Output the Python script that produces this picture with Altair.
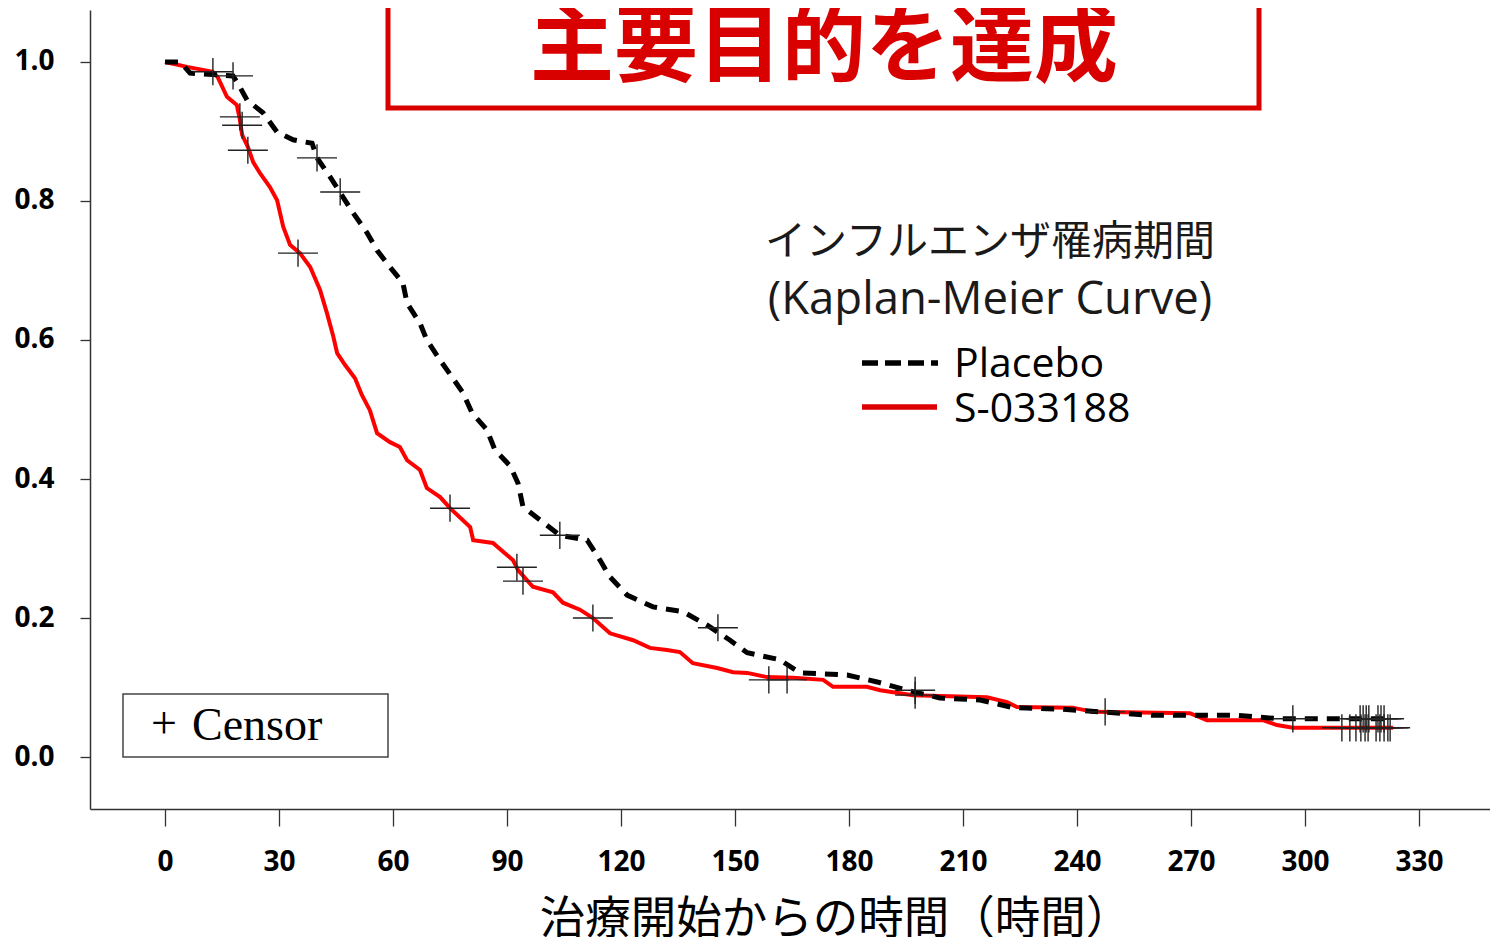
import altair as alt
import pandas as pd

# ---------------- data ----------------
# Kaplan-Meier curve of S-033188 (time in hours, survival proportion)
s033188_curve = [
    (0, 1.000), (5.8, 0.993), (12.6, 0.986), (13.9, 0.978), (16.3, 0.950), (18.9, 0.938),
    (19.7, 0.917), (20.3, 0.895), (21.8, 0.878), (23.2, 0.856), (25.0, 0.840), (27.6, 0.820),
    (29.5, 0.801), (31.1, 0.763), (32.9, 0.737), (35.5, 0.725), (38.2, 0.705), (40.8, 0.672),
    (42.6, 0.639), (44.2, 0.607), (45.3, 0.581), (47.4, 0.564), (50.0, 0.545), (51.8, 0.521),
    (53.9, 0.499), (55.8, 0.466), (59.2, 0.453), (61.8, 0.446), (63.7, 0.427), (67.1, 0.413),
    (68.9, 0.387), (72.4, 0.374), (75.0, 0.358), (80.3, 0.331), (81.1, 0.312), (86.3, 0.308),
    (91.6, 0.283), (92.9, 0.269), (96.8, 0.245), (102.1, 0.237), (104.7, 0.222), (109.2, 0.212),
    (112.6, 0.200), (117.1, 0.178), (123.2, 0.168), (127.6, 0.157), (132.1, 0.154), (135.5, 0.151),
    (138.9, 0.135), (145.3, 0.128), (149.5, 0.122), (153.2, 0.121), (158.4, 0.115), (165.3, 0.114),
    (173.2, 0.111), (175.8, 0.101), (184.7, 0.101), (188.2, 0.096), (196.8, 0.089), (216.3, 0.086),
    (221.6, 0.079), (224.2, 0.072), (238.9, 0.071), (244.2, 0.065), (269.7, 0.063), (274.2, 0.053),
    (288.9, 0.053), (292.6, 0.046), (296.8, 0.042), (323.2, 0.042),
]
# Kaplan-Meier curve of Placebo
placebo_curve = [
    (0, 1.000), (4.0, 1.000), (6.6, 0.984), (17.9, 0.980), (19.7, 0.964), (21.6, 0.945),
    (25.8, 0.927), (29.5, 0.899), (33.7, 0.888), (38.7, 0.883), (40.0, 0.862), (43.4, 0.835),
    (46.1, 0.812), (49.5, 0.783), (53.2, 0.754), (55.8, 0.729), (59.2, 0.705), (62.6, 0.682),
    (63.7, 0.653), (67.1, 0.624), (68.9, 0.600), (72.4, 0.571), (75.5, 0.547), (78.4, 0.524),
    (80.8, 0.495), (84.7, 0.471), (86.8, 0.442), (90.8, 0.419), (92.9, 0.394), (94.2, 0.360),
    (98.7, 0.341), (103.9, 0.319), (111.1, 0.312), (114.5, 0.283), (117.1, 0.259), (121.6, 0.233),
    (128.4, 0.216), (136.3, 0.209), (142.6, 0.190), (148.7, 0.168), (153.2, 0.150), (161.8, 0.140),
    (167.1, 0.121), (179.5, 0.118), (187.4, 0.108), (195.3, 0.096), (203.9, 0.085), (214.5, 0.082),
    (223.2, 0.071), (235.5, 0.069), (246.1, 0.065), (259.2, 0.060), (282.1, 0.060), (293.4, 0.055),
    (322.4, 0.055),
]
# censored observations (time, survival at censoring)
s033188_censor = [
    (12.6, 0.986), (19.7, 0.921), (20.3, 0.909), (21.8, 0.873), (35.0, 0.725), (75.0, 0.358),
    (92.6, 0.273), (94.2, 0.253), (112.6, 0.200), (158.9, 0.111), (163.7, 0.111), (197.4, 0.089),
    (309.7, 0.042), (311.8, 0.042), (313.4, 0.042), (314.7, 0.042), (315.8, 0.042), (316.6, 0.042),
    (318.7, 0.042), (319.7, 0.042), (320.8, 0.042), (321.8, 0.042), (322.4, 0.042),
]
placebo_censor = [
    (17.9, 0.980), (40.0, 0.862), (46.1, 0.813), (103.9, 0.319), (145.5, 0.186), (197.4, 0.096),
    (247.4, 0.065), (296.8, 0.055), (314.5, 0.055), (315.3, 0.055), (316.1, 0.055), (316.8, 0.055),
    (319.2, 0.055), (320.0, 0.055), (320.8, 0.055),
]

x_ticks = [0, 30, 60, 90, 120, 150, 180, 210, 240, 270, 300, 330]
y_ticks = [0.0, 0.2, 0.4, 0.6, 0.8, 1.0]
x_title = "治療開始からの時間（時間）"
headline = "主要目的を達成"
legend_title = ["インフルエンザ罹病期間", "(Kaplan-Meier Curve)"]
legend_labels = ["Placebo", "S-033188"]
censor_label = ["+", "Censor"]

# ---------------- layout ----------------
W, H = 1400, 799
X_DOM = [-19.74, 348.68]
Y_DOM = [-0.0748, 1.0748]
RED = "#ff0000"
TITLE_RED = "#d90000"

xs = alt.Scale(domain=X_DOM, nice=False, zero=False)
ys = alt.Scale(domain=Y_DOM, nice=False, zero=False)


def df_of(pairs):
    return pd.DataFrame(pairs, columns=["t", "s"])


x_enc = alt.X(
    "t:Q",
    scale=xs,
    axis=alt.Axis(
        values=x_ticks, format="d", grid=False, title=x_title,
        labelFont="Open Sans", labelFontSize=28, labelFontWeight="bold", labelColor="#000",
        labelPadding=22, tickSize=17, tickColor="#333", tickWidth=1.3,
        domainColor="#333", domainWidth=1.5,
        titleFont="Noto Sans CJK JP", titleFontSize=45.5, titleFontWeight="normal", titleColor="#000",
        titleX=745, titleY=110, titleBaseline="middle", titleAlign="center",
    ),
)
y_enc = alt.Y(
    "s:Q",
    scale=ys,
    axis=alt.Axis(
        values=y_ticks, format=".1f", grid=False, title=None,
        labelFont="Open Sans", labelFontSize=28, labelFontWeight="bold", labelColor="#000",
        labelPadding=26, tickSize=10, tickColor="#333", tickWidth=1.3,
        domainColor="#333", domainWidth=1.5,
    ),
)

red_line = alt.Chart(df_of(s033188_curve)).mark_line(
    color=RED, strokeWidth=4, interpolate="linear"
).encode(x=x_enc, y=y_enc)

placebo_line = alt.Chart(df_of(placebo_curve)).mark_line(
    color="#000000", strokeWidth=5, strokeDash=[13, 9], interpolate="linear"
).encode(x="t:Q", y="s:Q")

cross = "M-1,0H1M0,-0.68V0.68"
censors = alt.Chart(df_of(s033188_censor + placebo_censor)).mark_point(
    shape=cross, size=1600, strokeWidth=1.4, color="#222222", opacity=1, filled=False
).encode(x="t:Q", y="s:Q")

one = pd.DataFrame({"k": [0]})

# headline box
head_box = alt.Chart(one).mark_rect(
    fill="transparent", stroke=TITLE_RED, strokeWidth=5
).encode(x=alt.value(298), x2=alt.value(1169), y=alt.value(-40), y2=alt.value(98))
head_text = alt.Chart(one).mark_text(
    font="Noto Sans CJK JP", fontSize=84, fontWeight="bold", color=TITLE_RED,
    align="center", baseline="middle"
).encode(x=alt.value(734), y=alt.value(40), text=alt.value(headline))

# curve legend
leg_t1 = alt.Chart(one).mark_text(
    font="Noto Sans CJK JP", fontSize=41, color="#1a1a1a", align="center", baseline="middle"
).encode(x=alt.value(900), y=alt.value(233), text=alt.value(legend_title[0]))
leg_t2 = alt.Chart(one).mark_text(
    font="Open Sans", fontSize=45.5, color="#1a1a1a", align="center", baseline="middle"
).encode(x=alt.value(900), y=alt.value(290), text=alt.value(legend_title[1]))
leg_pl = alt.Chart(one).mark_rule(color="#000", strokeWidth=5.5, strokeDash=[16, 7]).encode(
    x=alt.value(772), x2=alt.value(848), y=alt.value(353))
leg_s = alt.Chart(one).mark_rule(color="#dc0000", strokeWidth=5.5).encode(
    x=alt.value(772), x2=alt.value(847), y=alt.value(397))
leg_l1 = alt.Chart(one).mark_text(
    font="Open Sans", fontSize=41, color="#000", align="left", baseline="middle"
).encode(x=alt.value(864), y=alt.value(355), text=alt.value(legend_labels[0]))
leg_l2 = alt.Chart(one).mark_text(
    font="Open Sans", fontSize=41, color="#000", align="left", baseline="middle"
).encode(x=alt.value(864), y=alt.value(400), text=alt.value(legend_labels[1]))

# censor legend box
cen_box = alt.Chart(one).mark_rect(
    fill="transparent", stroke="#444", strokeWidth=1.5
).encode(x=alt.value(33), x2=alt.value(298), y=alt.value(684), y2=alt.value(747))
cen_plus = alt.Chart(one).mark_text(
    font="Liberation Serif", fontSize=46, color="#000", align="center", baseline="middle"
).encode(x=alt.value(74), y=alt.value(714), text=alt.value(censor_label[0]))
cen_txt = alt.Chart(one).mark_text(
    font="Liberation Serif", fontSize=46, color="#000", align="left", baseline="middle"
).encode(x=alt.value(102), y=alt.value(716), text=alt.value(censor_label[1]))

chart = alt.layer(
    red_line, placebo_line, censors,
    head_box, head_text,
    leg_t1, leg_t2, leg_pl, leg_s, leg_l1, leg_l2,
    cen_box, cen_plus, cen_txt,
).properties(
    width=W, height=H,
    padding={"left": 82, "top": 2, "right": 0, "bottom": 128},
    autosize=alt.AutoSizeParams(type="none"),
    background="white",
).configure_view(strokeWidth=0)

chart.save("out.html", embed_options={"renderer": "svg", "actions": False})
